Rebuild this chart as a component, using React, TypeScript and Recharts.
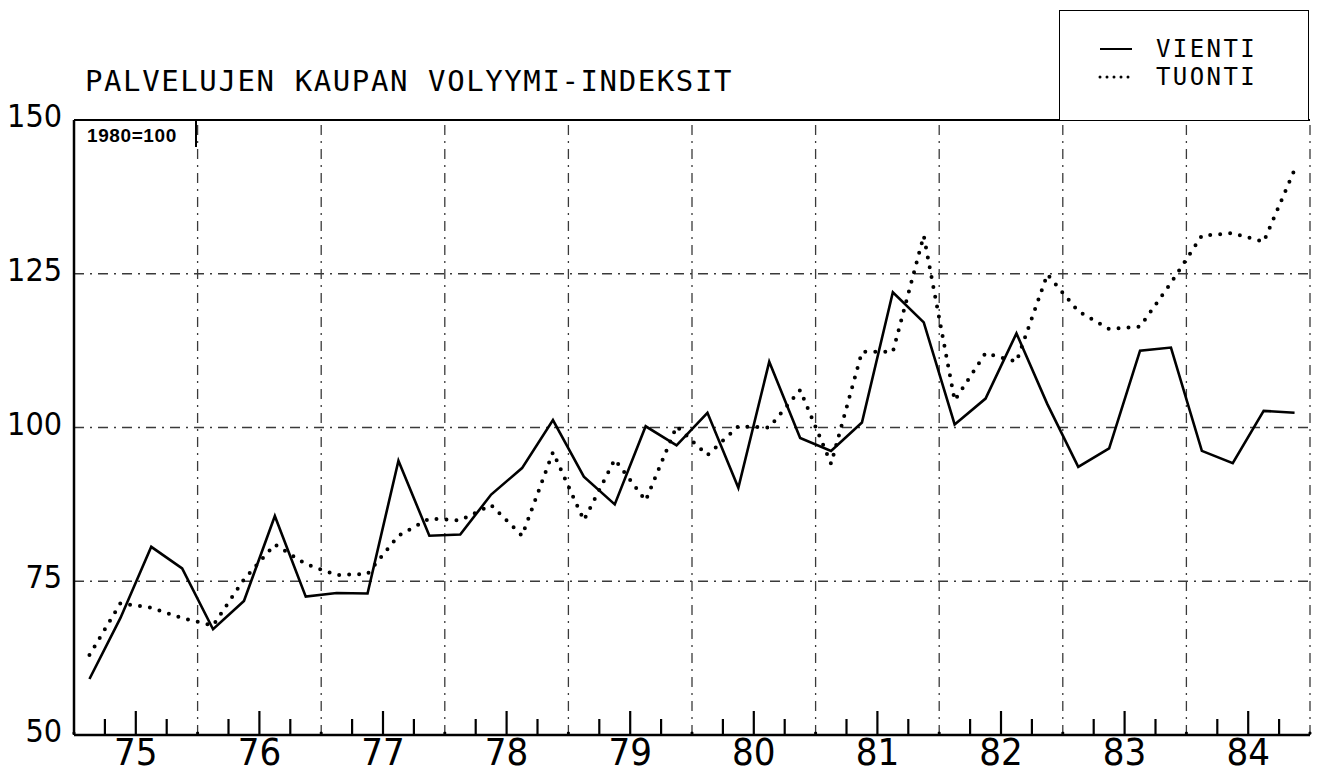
import React from "react";
import { LineChart, Line, XAxis, YAxis, ReferenceLine, Legend } from "recharts";

// quarterly volume indices 1975-1984, 1980=100
const YEARS = ["75", "76", "77", "78", "79", "80", "81", "82", "83", "84"];
const VIENTI = [
  59.1, 69, 80.6, 77.1, 67.2, 71.8, 85.6, 72.5, 73.1, 73.0,
  94.6, 82.4, 82.6, 89.1, 93.4, 101.2, 92.0, 87.5, 100.2, 97.1,
  102.4, 90.2, 110.7, 98.3, 96.2, 100.8, 122.0, 117.1, 100.5, 104.7,
  115.3, 103.8, 93.6, 96.6, 112.5, 113.0, 96.2, 94.2, 102.7, 102.4,
];
const TUONTI = [
  63.0, 71.4, 70.7, 69.0, 67.8, 75.3, 81.0, 77.8, 76.0, 76.2,
  82.4, 85.2, 84.9, 87.4, 82.4, 96.0, 84.9, 94.8, 88.1, 100.2,
  95.5, 100.2, 100.0, 106.1, 94.1, 112.3, 112.3, 131.2, 104.4, 112.1,
  110.7, 124.9, 118.9, 116.0, 116.4, 123.5, 131.2, 131.6, 130.2, 141.9,
];
const SERIES_ORDER = ["vienti", "tuonti"];
const Y_TICKS = [50, 75, 100, 125, 150];
const Y_GRID = [75, 100, 125];

const QUARTERS = YEARS.length * 4;
const QUARTER_TICKS = Array.from({ length: QUARTERS + 1 }, (_, i) => i);
const YEAR_BOUNDS = YEARS.slice(1).map((_, k) => (k + 1) * 4);

const data = VIENTI.map((v, i) => ({ q: i + 0.5, vienti: v, tuonti: TUONTI[i] }));

const GRID = "#3a3a3a";
const DASH = "10 6 2 6";
const LABEL_FONT = "'Liberation Sans Narrow', 'DejaVu Sans Condensed', 'DejaVu Sans', sans-serif";
const MONO = "'DejaVu Sans Mono', monospace";

function QuarterTick(props: any) {
  const { x, y, payload } = props;
  const v = payload.value;
  const pos = v % 4;
  if (pos === 0) return <circle cx={x} cy={y - 2} r={1.6} fill="#000" />;
  const len = pos === 2 ? 24 : 16;
  return (
    <g>
      <line x1={x} y1={y} x2={x} y2={y - len} stroke="#000" strokeWidth={2.2} />
      {pos === 2 && (
        <text x={x} y={y + 30} textAnchor="middle" fontSize={38} fontFamily={LABEL_FONT} fill="#000">
          {YEARS[(v - 2) / 4]}
        </text>
      )}
    </g>
  );
}

function ValueTick(props: any) {
  const { x, y, payload } = props;
  return (
    <text x={x} y={y} dy={7} textAnchor="end" fontSize={32} fontFamily={LABEL_FONT} fill="#000">
      {payload.value}
    </text>
  );
}

function LegendBox(props: any) {
  const items = [...(props.payload || [])].sort(
    (a: any, b: any) => SERIES_ORDER.indexOf(a.dataKey) - SERIES_ORDER.indexOf(b.dataKey)
  );
  return (
    <div
      style={{
        width: 250,
        height: 110,
        border: "1.5px solid #000",
        borderBottom: "none",
        boxSizing: "border-box",
        position: "relative",
        background: "#fff",
      }}
    >
      {items.map((it: any, i: number) => {
        const dotted = it.dataKey === "tuonti";
        return (
          <div
            key={it.value}
            style={{ position: "absolute", left: 38, top: 24 + i * 28, height: 28, display: "flex", alignItems: "center" }}
          >
            <svg width={36} height={10}>
              <line
                x1={2}
                y1={5}
                x2={34}
                y2={5}
                stroke="#000"
                strokeWidth={dotted ? 3 : 2}
                strokeDasharray={dotted ? "0 7" : undefined}
                strokeLinecap={dotted ? "round" : "butt"}
              />
            </svg>
            <span
              style={{
                marginLeft: 22,
                fontFamily: MONO,
                fontSize: 24,
                letterSpacing: 2.4,
                lineHeight: "28px",
                color: "#000",
              }}
            >
              {it.value}
            </span>
          </div>
        );
      })}
    </div>
  );
}

export default function App() {
  return (
    <div style={{ position: "relative", width: 1320, height: 780, background: "#fff" }}>
      <style>{"body{margin:0}"}</style>
      <div
        style={{
          position: "absolute",
          left: 85,
          top: 67,
          fontFamily: MONO,
          fontSize: 29,
          letterSpacing: 1.6,
          lineHeight: 1,
          color: "#000",
          whiteSpace: "nowrap",
        }}
      >
        PALVELUJEN KAUPAN VOLYYMI-INDEKSIT
      </div>
      <LineChart width={1320} height={780} data={data} margin={{ top: 120, right: 10, bottom: 0, left: 0 }}>
        {Y_GRID.map((v) => (
          <ReferenceLine key={"h" + v} y={v} stroke={GRID} strokeWidth={1.3} strokeDasharray={DASH} />
        ))}
        {YEAR_BOUNDS.map((b) => (
          <ReferenceLine key={"v" + b} x={b} stroke={GRID} strokeWidth={1.3} strokeDasharray={DASH} />
        ))}
        <ReferenceLine x={QUARTERS} stroke={GRID} strokeWidth={1.3} strokeDasharray={DASH} />
        <ReferenceLine y={150} stroke="#000" strokeWidth={2} />
        <XAxis
          dataKey="q"
          type="number"
          domain={[0, QUARTERS]}
          ticks={QUARTER_TICKS}
          interval={0}
          tick={<QuarterTick />}
          tickLine={false}
          tickSize={0}
          tickMargin={0}
          height={45}
          axisLine={{ stroke: "#000", strokeWidth: 2.5 }}
        />
        <YAxis
          type="number"
          domain={[50, 150]}
          ticks={Y_TICKS}
          interval={0}
          width={74}
          tick={<ValueTick />}
          tickLine={false}
          tickSize={0}
          tickMargin={12}
          axisLine={{ stroke: "#000", strokeWidth: 2.5 }}
        />
        <Legend
          layout="horizontal"
          verticalAlign="middle"
          align="center"
          content={<LegendBox />}
          wrapperStyle={{ left: 1059, top: 10, width: 250, height: 110 }}
        />
        <Line
          type="linear"
          dataKey="vienti"
          name="VIENTI"
          stroke="#000"
          strokeWidth={2.6}
          dot={false}
          isAnimationActive={false}
        />
        <Line
          type="linear"
          dataKey="tuonti"
          name="TUONTI"
          stroke="#000"
          strokeWidth={4}
          strokeDasharray="0 10"
          strokeLinecap="round"
          dot={false}
          isAnimationActive={false}
        />
      </LineChart>
      <div
        style={{
          position: "absolute",
          left: 74,
          top: 120,
          width: 123,
          height: 27,
          borderRight: "2px solid #000",
          boxSizing: "border-box",
          paddingLeft: 13,
          paddingTop: 6,
          fontFamily: "'Liberation Sans', Arial, sans-serif",
          fontWeight: "bold",
          fontSize: 19,
          lineHeight: "20px",
          letterSpacing: 0.6,
          color: "#000",
        }}
      >
        1980=100
      </div>
    </div>
  );
}
